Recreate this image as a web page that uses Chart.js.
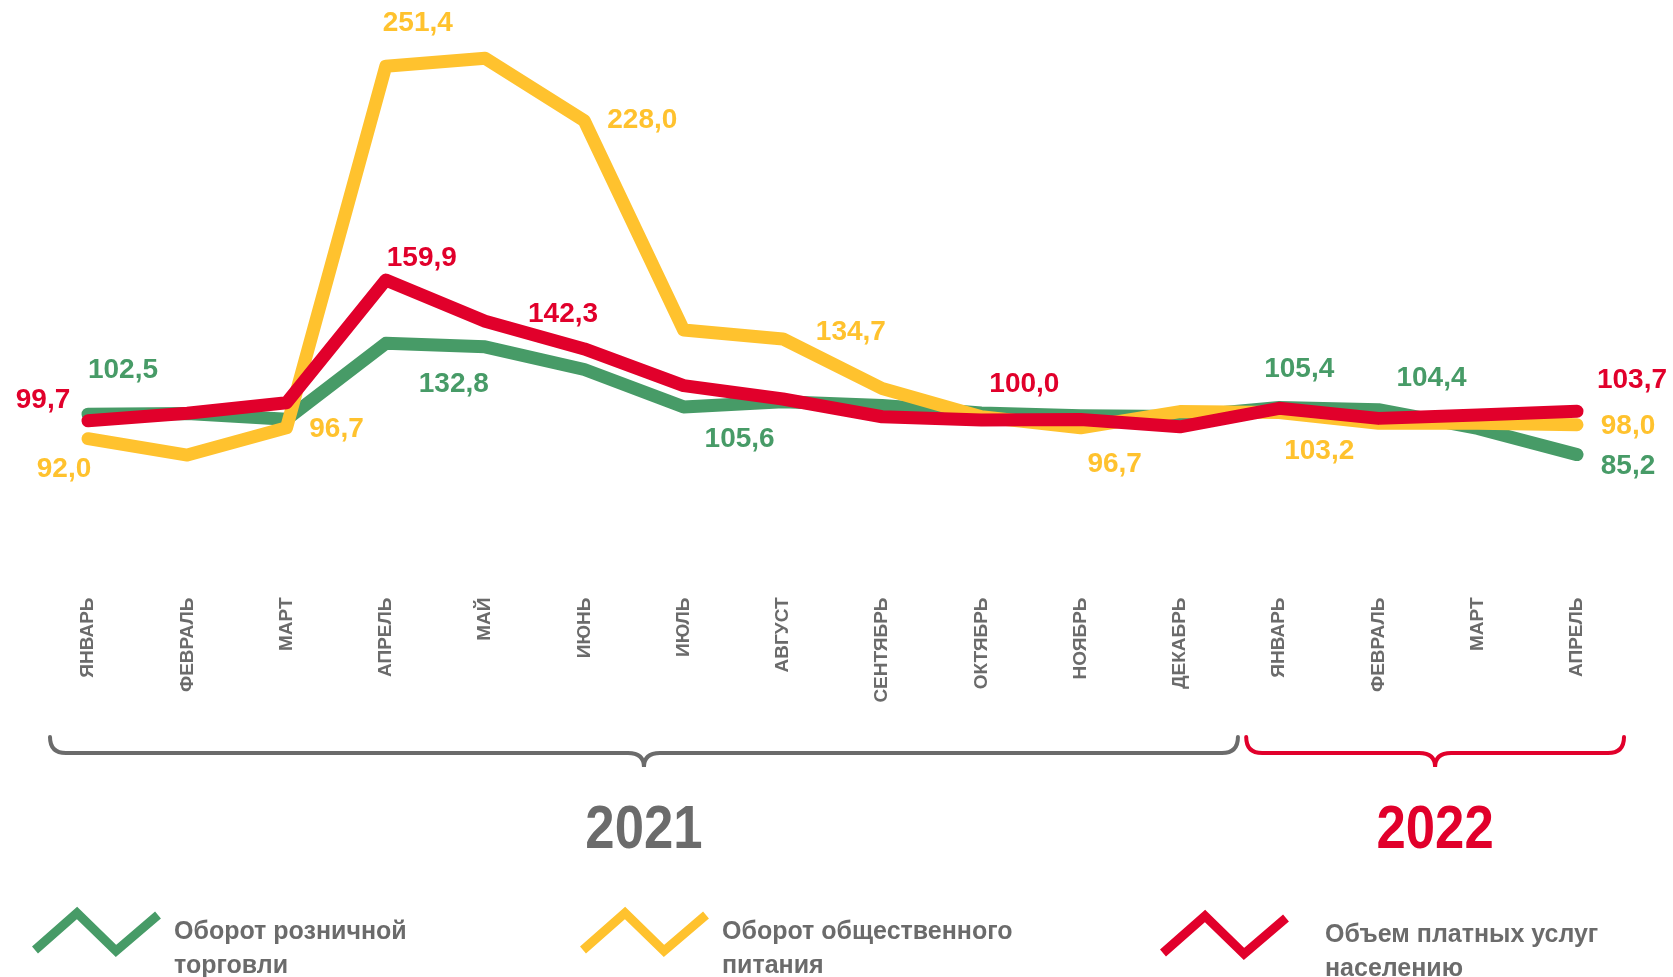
<!DOCTYPE html>
<html lang="ru">
<head>
<meta charset="utf-8">
<title>Динамика показателей потребительского рынка</title>
<script src="https://cdn.jsdelivr.net/npm/chart.js@4/dist/chart.umd.min.js"></script>
<style>
  html, body { margin: 0; padding: 0; background: #fff; }
  #wrap { width: 1673px; height: 977px; position: relative; }
</style>
</head>
<body>
<div id="wrap"><canvas id="chart"></canvas></div>
<script>
// months, Jan 2021 - Apr 2022
const months = ['ЯНВАРЬ', 'ФЕВРАЛЬ', 'МАРТ', 'АПРЕЛЬ', 'МАЙ', 'ИЮНЬ', 'ИЮЛЬ', 'АВГУСТ',
    'СЕНТЯБРЬ', 'ОКТЯБРЬ', 'НОЯБРЬ', 'ДЕКАБРЬ', 'ЯНВАРЬ', 'ФЕВРАЛЬ', 'МАРТ', 'АПРЕЛЬ'];

// % to same month of previous year
const retail   = [102.5, 102.8, 100.3, 132.8, 131.3, 121.6, 105.6, 107.8, 106.2, 103.0, 101.8, 101.5, 105.4, 104.4, 96.4, 85.2];
const catering = [92.0, 85.0, 96.7, 251.4, 254.8, 228.0, 138.5, 134.7, 113.5, 101.4, 96.7, 103.6, 103.2, 98.6, 98.6, 98.0];
const services = [99.7, 102.9, 107.4, 159.9, 142.3, 130.4, 114.7, 109.0, 101.4, 100.0, 100.2, 97.1, 105.0, 100.7, 102.1, 103.7];

// which points carry a value label
const retailLabelled   = [0, 3, 6, 12, 13, 15];
const cateringLabelled = [0, 2, 3, 5, 7, 10, 12, 15];
const servicesLabelled = [0, 3, 4, 9, 15];

const seriesNames = [
    ['Оборот розничной', 'торговли'],
    ['Оборот общественного', 'питания'],
    ['Объем платных услуг', 'населению'],
];

const years = ['2021', '2022'];
const yearFirstMonth = [0, 12];
const yearLastMonth = [11, 15];

const GREEN = '#479b67';
const YELLOW = '#ffc22e';
const RED = '#e1002b';
const GREY = '#6b6b6b';
const FONT = '"Liberation Sans", Arial, sans-serif';

// label placement, px from the point
const labelOffsets = [
    {0: [35, -44], 3: [68, 41], 6: [56, 32], 12: [20, -38], 13: [53, -31], 15: [51, 12]},
    {0: [-24, 31], 2: [50, 2], 3: [32, -43], 5: [58, -1], 7: [68, -7], 10: [34, 37], 12: [40, 39], 15: [51, 2]},
    {0: [-45, -20], 3: [36, -22], 4: [78, -7], 9: [43, -36], 15: [55, -31]},
];
const labelled = [retailLabelled, cateringLabelled, servicesLabelled];

const fmt = v => v.toFixed(1).replace('.', ',');

const valueLabels = {
    id: 'valueLabels',
    afterDatasetsDraw(chart) {
        const ctx = chart.ctx;
        ctx.save();
        ctx.font = 'bold 28px ' + FONT;
        ctx.textAlign = 'center';
        ctx.textBaseline = 'middle';
        chart.data.datasets.forEach((ds, di) => {
            const meta = chart.getDatasetMeta(di);
            ctx.fillStyle = ds.borderColor;
            labelled[di].forEach(i => {
                const pt = meta.data[i];
                const off = labelOffsets[di][i];
                ctx.fillText(fmt(ds.data[i]), pt.x + off[0], pt.y + off[1]);
            });
        });
        ctx.restore();
    }
};

function drawBrace(ctx, x1, x2, yTop, yMid, yTip) {
    const cx = (x1 + x2) / 2;
    const r = 16;
    ctx.beginPath();
    ctx.moveTo(x1, yTop);
    ctx.quadraticCurveTo(x1, yMid, x1 + r, yMid);
    ctx.lineTo(cx - r, yMid);
    ctx.quadraticCurveTo(cx, yMid, cx, yTip);
    ctx.quadraticCurveTo(cx, yMid, cx + r, yMid);
    ctx.lineTo(x2 - r, yMid);
    ctx.quadraticCurveTo(x2, yMid, x2, yTop);
    ctx.stroke();
}

const yearBraces = {
    id: 'yearBraces',
    afterDraw(chart) {
        const ctx = chart.ctx;
        const x = chart.scales.x;
        const colors = [GREY, RED];
        const pads = [[38, 58], [33, 47]];
        ctx.save();
        years.forEach((yr, k) => {
            const x1 = x.getPixelForValue(yearFirstMonth[k]) - pads[k][0];
            const x2 = x.getPixelForValue(yearLastMonth[k]) + pads[k][1];
            ctx.strokeStyle = colors[k];
            ctx.lineWidth = 4;
            ctx.lineCap = 'round';
            drawBrace(ctx, x1, x2, 737, 753, 767);

            ctx.save();
            ctx.translate((x1 + x2) / 2, 831);
            ctx.scale(0.85, 1);
            ctx.fillStyle = colors[k];
            ctx.font = 'bold 62px ' + FONT;
            ctx.textAlign = 'center';
            ctx.textBaseline = 'middle';
            ctx.fillText(yr, 0, 0);
            ctx.restore();
        });
        ctx.restore();
    }
};

const zigLegend = {
    id: 'zigLegend',
    afterDraw(chart) {
        const ctx = chart.ctx;
        const iconX = [35, 583, 1163];
        const textX = [174, 722, 1325];
        const dy = [0, 0, 3];
        ctx.save();
        chart.data.datasets.forEach((ds, i) => {
            const x0 = iconX[i], y0 = 913 + dy[i];
            ctx.strokeStyle = ds.borderColor;
            ctx.lineWidth = 9;
            ctx.lineJoin = 'miter';
            ctx.lineCap = 'butt';
            ctx.beginPath();
            ctx.moveTo(x0, y0 + 37);
            ctx.lineTo(x0 + 42, y0);
            ctx.lineTo(x0 + 81, y0 + 38);
            ctx.lineTo(x0 + 123, y0 + 2);
            ctx.stroke();

            ctx.fillStyle = GREY;
            ctx.font = 'bold 25px ' + FONT;
            ctx.textAlign = 'left';
            ctx.textBaseline = 'alphabetic';
            seriesNames[i].forEach((line, j) => {
                ctx.fillText(line, textX[i], 939 + dy[i] + j * 34);
            });
        });
        ctx.restore();
    }
};

const ctx = document.getElementById('chart').getContext('2d');

const lineStyle = {
    borderWidth: 13,
    pointRadius: 0,
    tension: 0,
    borderCapStyle: 'round',
    borderJoinStyle: 'round',
    fill: false,
    clip: false,
};

const myChart = new Chart(ctx, {
    type: 'line',
    data: {
        labels: months,
        datasets: [
            {label: seriesNames[0].join(' '), data: retail, borderColor: GREEN, backgroundColor: GREEN, order: 2, ...lineStyle},
            {label: seriesNames[1].join(' '), data: catering, borderColor: YELLOW, backgroundColor: YELLOW, order: 1, ...lineStyle},
            {label: seriesNames[2].join(' '), data: services, borderColor: RED, backgroundColor: RED, order: 0, ...lineStyle},
        ],
    },
    options: {
        responsive: true,
        maintainAspectRatio: false,
        animation: false,
        events: [],
        layout: {
            padding: {top: 22.7, left: 88, right: 96, bottom: 0},
        },
        scales: {
            x: {
                offset: false,
                grid: {display: false, drawTicks: false},
                border: {display: false},
                afterFit: scale => {
                    scale.height = 463.5;
                    scale.paddingLeft = 0;
                    scale.paddingRight = 0;
                },
                ticks: {
                    autoSkip: false,
                    minRotation: 90,
                    maxRotation: 90,
                    padding: 84,
                    color: GREY,
                    font: {family: FONT, size: 19, weight: 'bold'},
                },
            },
            y: {
                display: false,
                min: 60,
                max: 270,
            },
        },
        plugins: {
            legend: {display: false},
            tooltip: {enabled: false},
            title: {display: false},
        },
    },
    plugins: [valueLabels, yearBraces, zigLegend],
});
</script>
</body>
</html>
